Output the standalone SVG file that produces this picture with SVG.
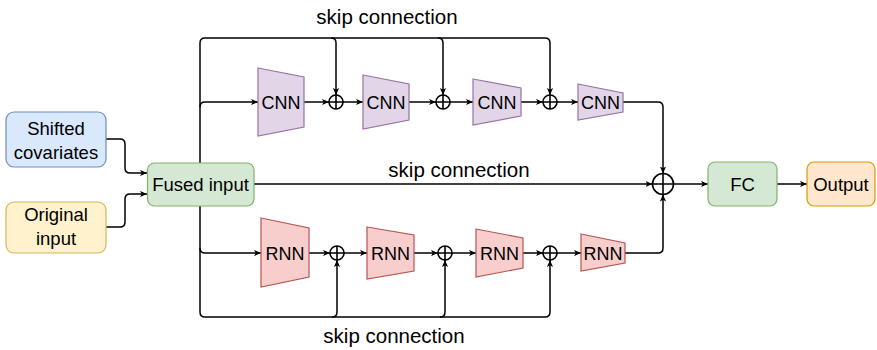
<svg xmlns="http://www.w3.org/2000/svg" width="877" height="350" viewBox="0 0 877 350">
<style>
  text { font-family: "Liberation Sans", Arial, Helvetica, sans-serif; fill: #000; text-anchor: middle; }
  .lbl { font-size: 18.5px; }
  .net { font-size: 18px; }
  .skip { font-size: 20.5px; }
  .edge { fill: none; stroke: #000; stroke-width: 1.5; marker-end: url(#arr); }
  .line { fill: none; stroke: #000; stroke-width: 1.5; }
  .blue { fill: #dae8fc; stroke: #6c8ebf; stroke-width: 1.2; }
  .yellow { fill: #fff2cc; stroke: #d6b656; stroke-width: 1.2; }
  .green { fill: #d5e8d4; stroke: #82b366; stroke-width: 1.2; }
  .orange { fill: #ffe6cc; stroke: #d79b00; stroke-width: 1.2; }
  .purple { fill: #e1d5e7; stroke: #9673a6; stroke-width: 1.2; }
  .red { fill: #f8cecc; stroke: #b85450; stroke-width: 1.2; }
  .plus circle { fill: #fff; stroke: #000; stroke-width: 1.6; }
  .plus path { fill: none; stroke: #000; stroke-width: 1.6; }
</style>
<defs>
  <marker id="arr" viewBox="0 0 8 8" refX="8" refY="4" markerWidth="7" markerHeight="7" markerUnits="userSpaceOnUse" orient="auto">
    <path d="M0,0.5 L8,4 L0,7.5 L2,4 Z" fill="#000"/>
  </marker>
</defs>

<g id="connectors">
  <path class="edge" d="M106,139 L120,139 Q125,139 125,144 L125,168 Q125,173 130,173 L147,173"/>
  <path class="edge" d="M106,227 L120,227 Q125,227 125,222 L125,199 Q125,194 130,194 L147,194"/>
  <path class="edge" d="M200,163 L200,43 Q200,38 205,38 L545,38 Q550,38 550,43 L550,95"/>
  <path class="edge" d="M331,38 Q336,38 336,43 L336,95"/>
  <path class="edge" d="M438,38 Q443,38 443,43 L443,95"/>
  <path class="edge" d="M200,107 Q200,102 205,102 L258,102"/>
  <path class="edge" d="M304,102 L329,102"/>
  <path class="edge" d="M343,102 L363,102"/>
  <path class="edge" d="M409,102 L436,102"/>
  <path class="edge" d="M450,102 L473,102"/>
  <path class="edge" d="M521,102 L543,102"/>
  <path class="edge" d="M557,102 L578,102"/>
  <path class="edge" d="M623,102 L658,102 Q663,102 663,107 L663,173.5"/>
  <path class="edge" d="M254,184 L652.5,184"/>
  <path class="edge" d="M200,206 L200,312 Q200,317 205,317 L545,317 Q550,317 550,312 L550,260"/>
  <path class="edge" d="M332,317 Q337,317 337,312 L337,260"/>
  <path class="edge" d="M440,317 Q445,317 445,312 L445,260"/>
  <path class="edge" d="M200,248 Q200,253 205,253 L261,253"/>
  <path class="edge" d="M309,253 L330,253"/>
  <path class="edge" d="M344,253 L367,253"/>
  <path class="edge" d="M414,253 L438,253"/>
  <path class="edge" d="M452,253 L476,253"/>
  <path class="edge" d="M523,253 L543,253"/>
  <path class="edge" d="M557,253 L581,253"/>
  <path class="edge" d="M625,253 L658,253 Q663,253 663,248 L663,194.5"/>
  <path class="edge" d="M673.5,184 L708,184"/>
  <path class="edge" d="M777,184 L807,184"/>
  <text class="skip" x="387" y="24">skip connection</text>
  <text class="skip" x="459" y="177">skip connection</text>
  <text class="skip" x="394" y="343">skip connection</text>
</g>

<g id="shifted">
  <rect class="blue" x="6" y="112" width="100" height="55" rx="8"/>
  <text class="lbl" x="56" y="134.5">Shifted</text>
  <text class="lbl" x="56" y="158.5">covariates</text>
</g>
<g id="original">
  <rect class="yellow" x="6" y="202" width="100" height="51" rx="8"/>
  <text class="lbl" x="56" y="220.5">Original</text>
  <text class="lbl" x="56" y="244.5">input</text>
</g>
<g id="fused">
  <rect class="green" x="147.5" y="163" width="106.5" height="43" rx="7"/>
  <text class="lbl" x="200.5" y="191">Fused input</text>
</g>

<g id="cnn1">
  <polygon class="purple" points="258,68 304,77 304,127 258,136"/>
  <text class="net" x="281" y="108.5">CNN</text>
</g>
<g id="cnn2">
  <polygon class="purple" points="363,75 409,84 409,120 363,129"/>
  <text class="net" x="386" y="108.5">CNN</text>
</g>
<g id="cnn3">
  <polygon class="purple" points="473,79 521,88 521,116 473,125"/>
  <text class="net" x="497" y="108.5">CNN</text>
</g>
<g id="cnn4">
  <polygon class="purple" points="578,84 623,93 623,112 578,120"/>
  <text class="net" x="600.5" y="108.5">CNN</text>
</g>

<g id="rnn1">
  <polygon class="red" points="261,218 309,228 309,277 261,287"/>
  <text class="net" x="285" y="259.5">RNN</text>
</g>
<g id="rnn2">
  <polygon class="red" points="367,227 414,235 414,271 367,279"/>
  <text class="net" x="390.5" y="259.5">RNN</text>
</g>
<g id="rnn3">
  <polygon class="red" points="476,229 523,238 523,268 476,277"/>
  <text class="net" x="499.5" y="259.5">RNN</text>
</g>
<g id="rnn4">
  <polygon class="red" points="581,234 625,243 625,263 581,271"/>
  <text class="net" x="603" y="259.5">RNN</text>
</g>

<g id="plus_c1" class="plus"><circle cx="336" cy="102" r="7"/><path d="M329,102 H343 M336,95 V109"/></g>
<g id="plus_c2" class="plus"><circle cx="443" cy="102" r="7"/><path d="M436,102 H450 M443,95 V109"/></g>
<g id="plus_c3" class="plus"><circle cx="550" cy="102" r="7"/><path d="M543,102 H557 M550,95 V109"/></g>
<g id="plus_r1" class="plus"><circle cx="337" cy="253" r="7"/><path d="M330,253 H344 M337,246 V260"/></g>
<g id="plus_r2" class="plus"><circle cx="445" cy="253" r="7"/><path d="M438,253 H452 M445,246 V260"/></g>
<g id="plus_r3" class="plus"><circle cx="550" cy="253" r="7"/><path d="M543,253 H557 M550,246 V260"/></g>
<g id="plus_main" class="plus"><circle cx="663" cy="184" r="10.5"/><path d="M652.5,184 H673.5 M663,173.5 V194.5"/></g>

<g id="fc">
  <rect class="green" x="708" y="162" width="69" height="44" rx="7"/>
  <text class="lbl" x="742.5" y="190.5">FC</text>
</g>
<g id="output">
  <rect class="orange" x="807" y="162" width="68" height="44" rx="7"/>
  <text class="lbl" x="841" y="190.5">Output</text>
</g>
</svg>
